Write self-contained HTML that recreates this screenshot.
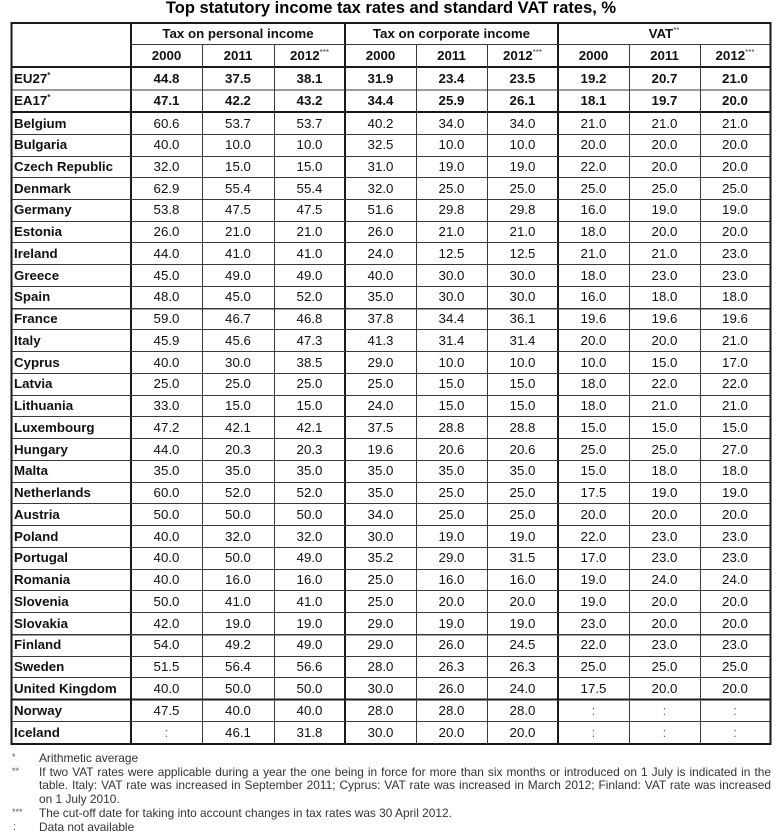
<!DOCTYPE html>
<html><head><meta charset="utf-8">
<style>
html,body{margin:0;padding:0;background:#fff;}
body{width:780px;height:840px;position:relative;overflow:hidden;font-family:"Liberation Sans",Arial,sans-serif;color:#111;}
.title{position:absolute;left:0;top:0;width:782px;text-align:center;font-weight:bold;font-size:16.5px;line-height:17px;color:#000;}
.r{position:absolute;left:0;width:780px;font-size:13.3px;}
.r span{position:absolute;top:0;text-align:center;white-space:nowrap;}
.r .n{left:14px;text-align:left;font-weight:bold;width:115px;}
.a{left:131px;width:71px}.b{left:202px;width:72px}.c{left:274px;width:71px}
.d{left:345px;width:71px}.e{left:416px;width:71px}.f{left:487px;width:71px}
.g{left:558px;width:71px}.h{left:629px;width:71px}.i{left:700px;width:70px}
.r .g1{left:131px;width:214px;font-weight:bold}
.r .g2{left:345px;width:213px;font-weight:bold}
.r .g3{left:558px;width:212px;font-weight:bold}
.hd span{font-weight:bold}
.bd span{font-weight:bold}
sup{font-size:8px;vertical-align:top;position:relative;top:-3px;font-weight:normal;color:#444;}
.bd .n sup{font-weight:bold;color:#222}
.col{color:#666}
.fn{position:absolute;font-size:11.9px;line-height:14px;color:#333;height:14px;overflow:hidden;}
.fm{left:12px;font-size:9px;color:#555}
.ft{left:39px;width:732px;}
.j{text-align:justify;text-align-last:justify;}
svg{position:absolute;left:0;top:0}
</style></head><body>
<div class="title">Top statutory income tax rates and standard VAT rates, %</div>

<svg width="780" height="840" shape-rendering="crispEdges">
<g fill="#1a1a1a">
<rect x="10.5" y="22" width="761" height="2"/>
<rect x="10.5" y="66" width="761" height="2"/>
<rect x="10.5" y="111" width="761" height="2"/>
<rect x="10.5" y="698.5" width="761" height="2"/>
<rect x="10.5" y="743" width="761" height="2"/>
<rect x="10.5" y="22" width="2" height="723"/>
<rect x="130" y="22" width="2" height="723"/>
<rect x="344" y="22" width="2" height="723"/>
<rect x="557" y="22" width="2" height="723"/>
<rect x="769.5" y="22" width="2" height="723"/>
</g>
<g fill="#3a3a3a">
<rect x="131" y="44" width="639" height="1"/>
<rect x="12" y="89.5" width="758" height="1"/>
<rect x="12" y="134" width="758" height="1"/>
<rect x="12" y="156" width="758" height="1"/>
<rect x="12" y="177" width="758" height="1"/>
<rect x="12" y="199" width="758" height="1"/>
<rect x="12" y="221" width="758" height="1"/>
<rect x="12" y="242" width="758" height="1"/>
<rect x="12" y="264" width="758" height="1"/>
<rect x="12" y="286" width="758" height="1"/>
<rect x="12" y="308" width="758" height="1.5"/>
<rect x="12" y="329" width="758" height="1"/>
<rect x="12" y="351" width="758" height="1"/>
<rect x="12" y="373" width="758" height="1"/>
<rect x="12" y="395" width="758" height="1"/>
<rect x="12" y="416" width="758" height="1"/>
<rect x="12" y="438" width="758" height="1"/>
<rect x="12" y="460" width="758" height="1"/>
<rect x="12" y="482" width="758" height="1"/>
<rect x="12" y="503" width="758" height="1"/>
<rect x="12" y="525" width="758" height="1"/>
<rect x="12" y="547" width="758" height="1"/>
<rect x="12" y="569" width="758" height="1"/>
<rect x="12" y="590" width="758" height="1"/>
<rect x="12" y="612" width="758" height="1"/>
<rect x="12" y="634" width="758" height="1.5"/>
<rect x="12" y="656" width="758" height="1"/>
<rect x="12" y="677" width="758" height="1"/>
<rect x="12" y="721" width="758" height="1"/>
<rect x="202" y="44" width="1" height="700"/>
<rect x="274" y="44" width="1" height="700"/>
<rect x="416" y="44" width="1" height="700"/>
<rect x="487" y="44" width="1" height="700"/>
<rect x="629" y="44" width="1" height="700"/>
<rect x="700" y="44" width="1" height="700"/>
</g>
</svg>

<div class="r hd" style="top:23px;height:21.5px;line-height:21.5px"><span class="g1">Tax on personal income</span><span class="g2">Tax on corporate income</span><span class="g3">VAT<sup>**</sup></span></div>
<div class="r hd" style="top:44.5px;height:22.5px;line-height:22.5px"><span class="a">2000</span><span class="b">2011</span><span class="c">2012<sup>***</sup></span><span class="d">2000</span><span class="e">2011</span><span class="f">2012<sup>***</sup></span><span class="g">2000</span><span class="h">2011</span><span class="i">2012<sup>***</sup></span></div>
<div class="r bd" style="top:67px;height:23px;line-height:23px"><span class="n">EU27<sup>*</sup></span><span class="a">44.8</span><span class="b">37.5</span><span class="c">38.1</span><span class="d">31.9</span><span class="e">23.4</span><span class="f">23.5</span><span class="g">19.2</span><span class="h">20.7</span><span class="i">21.0</span></div>
<div class="r bd" style="top:90px;height:22px;line-height:22px"><span class="n">EA17<sup>*</sup></span><span class="a">47.1</span><span class="b">42.2</span><span class="c">43.2</span><span class="d">34.4</span><span class="e">25.9</span><span class="f">26.1</span><span class="g">18.1</span><span class="h">19.7</span><span class="i">20.0</span></div>

<div class="r" style="top:112.5px;height:21.74px;line-height:21.74px"><span class="n">Belgium</span><span class="a">60.6</span><span class="b">53.7</span><span class="c">53.7</span><span class="d">40.2</span><span class="e">34.0</span><span class="f">34.0</span><span class="g">21.0</span><span class="h">21.0</span><span class="i">21.0</span></div>
<div class="r" style="top:134.24px;height:21.74px;line-height:21.74px"><span class="n">Bulgaria</span><span class="a">40.0</span><span class="b">10.0</span><span class="c">10.0</span><span class="d">32.5</span><span class="e">10.0</span><span class="f">10.0</span><span class="g">20.0</span><span class="h">20.0</span><span class="i">20.0</span></div>
<div class="r" style="top:155.98px;height:21.74px;line-height:21.74px"><span class="n">Czech Republic</span><span class="a">32.0</span><span class="b">15.0</span><span class="c">15.0</span><span class="d">31.0</span><span class="e">19.0</span><span class="f">19.0</span><span class="g">22.0</span><span class="h">20.0</span><span class="i">20.0</span></div>
<div class="r" style="top:177.72px;height:21.74px;line-height:21.74px"><span class="n">Denmark</span><span class="a">62.9</span><span class="b">55.4</span><span class="c">55.4</span><span class="d">32.0</span><span class="e">25.0</span><span class="f">25.0</span><span class="g">25.0</span><span class="h">25.0</span><span class="i">25.0</span></div>
<div class="r" style="top:199.46px;height:21.74px;line-height:21.74px"><span class="n">Germany</span><span class="a">53.8</span><span class="b">47.5</span><span class="c">47.5</span><span class="d">51.6</span><span class="e">29.8</span><span class="f">29.8</span><span class="g">16.0</span><span class="h">19.0</span><span class="i">19.0</span></div>
<div class="r" style="top:221.2px;height:21.74px;line-height:21.74px"><span class="n">Estonia</span><span class="a">26.0</span><span class="b">21.0</span><span class="c">21.0</span><span class="d">26.0</span><span class="e">21.0</span><span class="f">21.0</span><span class="g">18.0</span><span class="h">20.0</span><span class="i">20.0</span></div>
<div class="r" style="top:242.94px;height:21.74px;line-height:21.74px"><span class="n">Ireland</span><span class="a">44.0</span><span class="b">41.0</span><span class="c">41.0</span><span class="d">24.0</span><span class="e">12.5</span><span class="f">12.5</span><span class="g">21.0</span><span class="h">21.0</span><span class="i">23.0</span></div>
<div class="r" style="top:264.68px;height:21.74px;line-height:21.74px"><span class="n">Greece</span><span class="a">45.0</span><span class="b">49.0</span><span class="c">49.0</span><span class="d">40.0</span><span class="e">30.0</span><span class="f">30.0</span><span class="g">18.0</span><span class="h">23.0</span><span class="i">23.0</span></div>
<div class="r" style="top:286.42px;height:21.74px;line-height:21.74px"><span class="n">Spain</span><span class="a">48.0</span><span class="b">45.0</span><span class="c">52.0</span><span class="d">35.0</span><span class="e">30.0</span><span class="f">30.0</span><span class="g">16.0</span><span class="h">18.0</span><span class="i">18.0</span></div>
<div class="r" style="top:308.16px;height:21.74px;line-height:21.74px"><span class="n">France</span><span class="a">59.0</span><span class="b">46.7</span><span class="c">46.8</span><span class="d">37.8</span><span class="e">34.4</span><span class="f">36.1</span><span class="g">19.6</span><span class="h">19.6</span><span class="i">19.6</span></div>
<div class="r" style="top:329.9px;height:21.74px;line-height:21.74px"><span class="n">Italy</span><span class="a">45.9</span><span class="b">45.6</span><span class="c">47.3</span><span class="d">41.3</span><span class="e">31.4</span><span class="f">31.4</span><span class="g">20.0</span><span class="h">20.0</span><span class="i">21.0</span></div>
<div class="r" style="top:351.64px;height:21.74px;line-height:21.74px"><span class="n">Cyprus</span><span class="a">40.0</span><span class="b">30.0</span><span class="c">38.5</span><span class="d">29.0</span><span class="e">10.0</span><span class="f">10.0</span><span class="g">10.0</span><span class="h">15.0</span><span class="i">17.0</span></div>
<div class="r" style="top:373.38px;height:21.74px;line-height:21.74px"><span class="n">Latvia</span><span class="a">25.0</span><span class="b">25.0</span><span class="c">25.0</span><span class="d">25.0</span><span class="e">15.0</span><span class="f">15.0</span><span class="g">18.0</span><span class="h">22.0</span><span class="i">22.0</span></div>
<div class="r" style="top:395.12px;height:21.74px;line-height:21.74px"><span class="n">Lithuania</span><span class="a">33.0</span><span class="b">15.0</span><span class="c">15.0</span><span class="d">24.0</span><span class="e">15.0</span><span class="f">15.0</span><span class="g">18.0</span><span class="h">21.0</span><span class="i">21.0</span></div>
<div class="r" style="top:416.86px;height:21.74px;line-height:21.74px"><span class="n">Luxembourg</span><span class="a">47.2</span><span class="b">42.1</span><span class="c">42.1</span><span class="d">37.5</span><span class="e">28.8</span><span class="f">28.8</span><span class="g">15.0</span><span class="h">15.0</span><span class="i">15.0</span></div>
<div class="r" style="top:438.6px;height:21.74px;line-height:21.74px"><span class="n">Hungary</span><span class="a">44.0</span><span class="b">20.3</span><span class="c">20.3</span><span class="d">19.6</span><span class="e">20.6</span><span class="f">20.6</span><span class="g">25.0</span><span class="h">25.0</span><span class="i">27.0</span></div>
<div class="r" style="top:460.34px;height:21.74px;line-height:21.74px"><span class="n">Malta</span><span class="a">35.0</span><span class="b">35.0</span><span class="c">35.0</span><span class="d">35.0</span><span class="e">35.0</span><span class="f">35.0</span><span class="g">15.0</span><span class="h">18.0</span><span class="i">18.0</span></div>
<div class="r" style="top:482.08px;height:21.74px;line-height:21.74px"><span class="n">Netherlands</span><span class="a">60.0</span><span class="b">52.0</span><span class="c">52.0</span><span class="d">35.0</span><span class="e">25.0</span><span class="f">25.0</span><span class="g">17.5</span><span class="h">19.0</span><span class="i">19.0</span></div>
<div class="r" style="top:503.82px;height:21.74px;line-height:21.74px"><span class="n">Austria</span><span class="a">50.0</span><span class="b">50.0</span><span class="c">50.0</span><span class="d">34.0</span><span class="e">25.0</span><span class="f">25.0</span><span class="g">20.0</span><span class="h">20.0</span><span class="i">20.0</span></div>
<div class="r" style="top:525.56px;height:21.74px;line-height:21.74px"><span class="n">Poland</span><span class="a">40.0</span><span class="b">32.0</span><span class="c">32.0</span><span class="d">30.0</span><span class="e">19.0</span><span class="f">19.0</span><span class="g">22.0</span><span class="h">23.0</span><span class="i">23.0</span></div>
<div class="r" style="top:547.3px;height:21.74px;line-height:21.74px"><span class="n">Portugal</span><span class="a">40.0</span><span class="b">50.0</span><span class="c">49.0</span><span class="d">35.2</span><span class="e">29.0</span><span class="f">31.5</span><span class="g">17.0</span><span class="h">23.0</span><span class="i">23.0</span></div>
<div class="r" style="top:569.04px;height:21.74px;line-height:21.74px"><span class="n">Romania</span><span class="a">40.0</span><span class="b">16.0</span><span class="c">16.0</span><span class="d">25.0</span><span class="e">16.0</span><span class="f">16.0</span><span class="g">19.0</span><span class="h">24.0</span><span class="i">24.0</span></div>
<div class="r" style="top:590.78px;height:21.74px;line-height:21.74px"><span class="n">Slovenia</span><span class="a">50.0</span><span class="b">41.0</span><span class="c">41.0</span><span class="d">25.0</span><span class="e">20.0</span><span class="f">20.0</span><span class="g">19.0</span><span class="h">20.0</span><span class="i">20.0</span></div>
<div class="r" style="top:612.52px;height:21.74px;line-height:21.74px"><span class="n">Slovakia</span><span class="a">42.0</span><span class="b">19.0</span><span class="c">19.0</span><span class="d">29.0</span><span class="e">19.0</span><span class="f">19.0</span><span class="g">23.0</span><span class="h">20.0</span><span class="i">20.0</span></div>
<div class="r" style="top:634.26px;height:21.74px;line-height:21.74px"><span class="n">Finland</span><span class="a">54.0</span><span class="b">49.2</span><span class="c">49.0</span><span class="d">29.0</span><span class="e">26.0</span><span class="f">24.5</span><span class="g">22.0</span><span class="h">23.0</span><span class="i">23.0</span></div>
<div class="r" style="top:656px;height:21.74px;line-height:21.74px"><span class="n">Sweden</span><span class="a">51.5</span><span class="b">56.4</span><span class="c">56.6</span><span class="d">28.0</span><span class="e">26.3</span><span class="f">26.3</span><span class="g">25.0</span><span class="h">25.0</span><span class="i">25.0</span></div>
<div class="r" style="top:677.74px;height:21.74px;line-height:21.74px"><span class="n">United Kingdom</span><span class="a">40.0</span><span class="b">50.0</span><span class="c">50.0</span><span class="d">30.0</span><span class="e">26.0</span><span class="f">24.0</span><span class="g">17.5</span><span class="h">20.0</span><span class="i">20.0</span></div>
<div class="r" style="top:700px;height:22px;line-height:22px"><span class="n">Norway</span><span class="a">47.5</span><span class="b">40.0</span><span class="c">40.0</span><span class="d">28.0</span><span class="e">28.0</span><span class="f">28.0</span><span class="g col">:</span><span class="h col">:</span><span class="i col">:</span></div>
<div class="r" style="top:722px;height:21.5px;line-height:21.5px"><span class="n">Iceland</span><span class="a col">:</span><span class="b">46.1</span><span class="c">31.8</span><span class="d">30.0</span><span class="e">20.0</span><span class="f">20.0</span><span class="g col">:</span><span class="h col">:</span><span class="i col">:</span></div>

<div class="fn fm" style="top:750px">*</div>
<div class="fn ft" style="top:750.5px">Arithmetic average</div>
<div class="fn fm" style="top:764px">**</div>
<div class="fn ft j" style="top:764.5px">If two VAT rates were applicable during a year the one being in force for more than six months or introduced on 1 July is indicated in the</div>
<div class="fn ft j" style="top:777.5px">table. Italy: VAT rate was increased in September 2011; Cyprus: VAT rate was increased in March 2012; Finland: VAT rate was increased</div>
<div class="fn ft" style="top:791.5px">on 1 July 2010.</div>
<div class="fn fm" style="top:805px">***</div>
<div class="fn ft" style="top:805.5px">The cut-off date for taking into account changes in tax rates was 30 April 2012.</div>
<div class="fn" style="top:819.5px;left:13px;font-size:11px;color:#666">:</div>
<div class="fn ft" style="top:819.5px">Data not available</div>
</body></html>
